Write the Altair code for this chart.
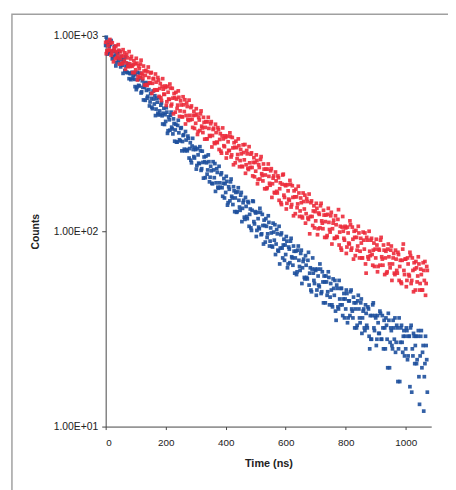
import altair as alt
import pandas as pd

# time channels (ns): two interleaved sets of channels
time_a = list(range(0, 1073, 4))
time_b = list(range(2, 1071, 4))

red_counts_a = [
    927, 838, 890, 847, 916, 813, 838, 872, 764, 829, 797, 845, 765, 789, 727, 788, 819, 728, 772, 698, 720, 763, 699, 712, 649,
    671, 725, 621, 680, 718, 644, 604, 661, 628, 564, 656, 612, 574, 650, 572, 606, 530, 580, 528, 594, 538, 483, 551, 534, 502,
    544, 460, 515, 473, 541, 447, 480, 507, 407, 475, 442, 485, 413, 443, 385, 444, 471, 391, 435, 369, 392, 430, 374, 392, 336,
    357, 397, 324, 371, 399, 345, 320, 361, 340, 297, 363, 336, 306, 364, 309, 337, 281, 320, 284, 331, 295, 257, 308, 297, 271,
    302, 251, 287, 259, 305, 246, 267, 284, 224, 268, 247, 274, 230, 249, 214, 253, 278, 219, 249, 207, 224, 248, 212, 225, 190,
    203, 230, 184, 212, 233, 197, 181, 208, 194, 165, 208, 191, 172, 209, 175, 192, 157, 181, 157, 188, 165, 140, 174, 196, 149,
    171, 139, 161, 144, 174, 137, 149, 161, 123, 150, 138, 157, 127, 140, 117, 142, 153, 123, 142, 115, 97, 140, 119, 127, 104,
    113, 131, 103, 122, 135, 113, 103, 121, 112, 93, 122, 111, 99, 125, 103, 114, 92, 108, 93, 129, 99, 82, 105, 100, 90,
    104, 83, 98, 86, 108, 82, 91, 100, 75, 93, 84, 98, 79, 87, 73, 90, 98, 61, 90, 72, 79, 90, 76, 80, 66,
    73, 85, 66, 80, 90, 74, 67, 80, 73, 61, 81, 74, 65, 84, 68, 77, 60, 72, 61, 76, 66, 55, 71, 86, 60,
    72, 56, 68, 59, 75, 56, 63, 69, 50, 65, 59, 68, 54, 60, 50, 63, 70, 54, 63,
]

red_counts_b = [
    811, 935, 847, 959, 796, 923, 737, 847, 888, 772, 902, 717, 828, 719, 850, 750, 675, 803, 697, 831, 698, 785, 649, 747, 719,
    768, 595, 702, 614, 751, 631, 701, 560, 666, 558, 693, 576, 646, 508, 602, 525, 638, 529, 612, 490, 570, 467, 604, 503, 554,
    441, 552, 475, 567, 438, 539, 399, 483, 514, 425, 523, 387, 465, 386, 488, 410, 354, 453, 374, 469, 372, 438, 340, 411, 392,
    424, 313, 382, 328, 413, 338, 383, 296, 364, 297, 383, 309, 355, 270, 332, 284, 353, 286, 339, 262, 316, 251, 338, 274, 308,
    237, 307, 259, 319, 240, 302, 219, 269, 289, 235, 297, 214, 262, 215, 277, 232, 198, 259, 210, 271, 212, 252, 192, 238, 225,
    246, 175, 219, 185, 241, 193, 221, 165, 208, 167, 221, 176, 204, 149, 187, 158, 201, 160, 192, 144, 177, 137, 194, 153, 173,
    130, 173, 146, 182, 133, 171, 120, 150, 164, 132, 170, 119, 148, 119, 157, 130, 110, 147, 117, 155, 119, 143, 107, 135, 126,
    139, 96, 124, 104, 139, 110, 128, 93, 121, 95, 131, 102, 120, 86, 110, 92, 120, 94, 115, 85, 106, 80, 119, 92, 106,
    77, 105, 87, 113, 80, 105, 72, 93, 101, 80, 106, 73, 92, 73, 99, 81, 68, 93, 74, 100, 75, 92, 67, 87, 81,
    91, 62, 81, 67, 93, 72, 85, 60, 79, 62, 86, 68, 80, 56, 73, 61, 80, 63, 78, 56, 71, 54, 81, 63, 72,
    52, 73, 60, 78, 54, 73, 49, 64, 70, 55, 74, 50, 64, 50, 69, 56, 47, 66,
]

blue_counts_a = [
    894, 942, 829, 884, 904, 831, 784, 835, 798, 730, 811, 767, 724, 785, 708, 738, 663, 701, 648, 704, 646, 597, 651, 627, 599,
    633, 545, 598, 554, 610, 517, 545, 567, 468, 526, 491, 531, 459, 479, 424, 475, 494, 422, 458, 394, 413, 442, 390, 402, 352,
    365, 407, 327, 372, 393, 341, 315, 356, 330, 286, 348, 319, 290, 339, 288, 312, 258, 293, 258, 299, 265, 231, 273, 262, 237,
    262, 217, 246, 222, 258, 209, 225, 240, 188, 224, 206, 227, 189, 204, 175, 206, 222, 177, 200, 166, 177, 195, 167, 176, 148,
    158, 180, 140, 164, 179, 151, 137, 161, 148, 125, 159, 144, 128, 158, 131, 144, 115, 134, 116, 140, 122, 104, 128, 142, 109,
    124, 101, 116, 103, 125, 97, 107, 114, 88, 106, 97, 111, 89, 98, 83, 99, 108, 86, 97, 79, 68, 96, 82, 85, 71,
    76, 89, 68, 81, 89, 74, 67, 79, 73, 60, 80, 71, 63, 80, 65, 72, 57, 67, 57, 78, 61, 50, 64, 61, 54,
    63, 50, 59, 52, 64, 49, 55, 59, 43, 55, 49, 58, 46, 50, 41, 51, 56, 35, 51, 40, 45, 51, 42, 45, 36,
    40, 48, 36, 44, 49, 40, 36, 43, 40, 32, 44, 40, 34, 45, 36, 40, 31, 38, 32, 40, 25, 28, 37, 43, 31,
    36, 28, 34, 30, 38, 28, 32, 35, 25, 33, 20, 35, 27, 31, 25, 32, 36, 27, 32, 25, 17, 32, 27, 29, 23,
    25, 31, 23, 29, 32, 15, 23, 29, 26, 21, 29, 18, 23, 31, 24, 12, 21, 26, 15,
]

blue_counts_b = [
    985, 807, 917, 815, 947, 763, 842, 884, 702, 824, 749, 835, 694, 756, 643, 753, 782, 653, 722, 604, 640, 706, 607, 646, 550,
    531, 651, 558, 645, 510, 589, 470, 546, 577, 480, 571, 438, 507, 431, 522, 448, 391, 480, 402, 483, 396, 454, 354, 426, 395,
    429, 317, 385, 329, 407, 334, 376, 289, 353, 286, 370, 294, 336, 258, 309, 263, 324, 262, 307, 237, 284, 224, 299, 241, 269,
    208, 265, 223, 271, 205, 257, 187, 227, 242, 196, 246, 179, 215, 176, 227, 188, 160, 209, 168, 215, 168, 199, 151, 186, 175,
    191, 136, 169, 143, 185, 148, 169, 126, 158, 126, 167, 133, 153, 112, 140, 118, 149, 119, 142, 106, 130, 101, 143, 112, 126,
    94, 125, 105, 131, 96, 122, 86, 107, 116, 93, 120, 84, 104, 84, 110, 90, 76, 102, 80, 106, 82, 98, 73, 91, 85,
    94, 65, 83, 69, 92, 73, 84, 61, 79, 62, 84, 66, 77, 54, 70, 58, 75, 58, 71, 53, 65, 49, 73, 56, 64,
    47, 64, 53, 68, 48, 62, 43, 55, 59, 47, 62, 42, 54, 42, 57, 47, 39, 53, 41, 56, 42, 51, 37, 48, 45,
    50, 34, 44, 37, 50, 39, 46, 32, 43, 33, 47, 36, 43, 30, 39, 32, 42, 33, 41, 29, 37, 28, 42, 32, 37,
    26, 37, 30, 39, 28, 37, 25, 32, 36, 28, 38, 20, 32, 26, 35, 28, 24, 33, 17, 36, 27, 33, 24, 31, 29,
    32, 22, 29, 16, 33, 25, 30, 21, 29, 22, 31, 13, 29, 20, 26, 18, 29, 22,
]

series_names = ["Blue", "Red"]
series_colors = ["#1d4f9c", "#ec2b3b"]
x_ticks = [0, 200, 400, 600, 800, 1000]
y_ticks = [10, 100, 1000]

rows = []
for name, order, parts in [
    ("Blue", 0, [(time_a, blue_counts_a), (time_b, blue_counts_b)]),
    ("Red", 1, [(time_a, red_counts_a), (time_b, red_counts_b)]),
]:
    for times, counts in parts:
        for t, c in zip(times, counts):
            rows.append({"time": t, "counts": c, "series": name, "order": order})
df = pd.DataFrame(rows)

font = "Liberation Sans"

points = alt.Chart(df).mark_square(size=14, opacity=0.9).encode(
    x=alt.X("time:Q", scale=alt.Scale(domain=[0, 1085], nice=False, zero=False),
            axis=alt.Axis(title="Time (ns)", values=x_ticks, format="d", grid=False, tickSize=3,
                          labelPadding=8, titlePadding=10, labelFontSize=10,
                          titleFontSize=11, titleFontWeight="bold")),
    y=alt.Y("counts:Q", scale=alt.Scale(type="log", domain=[10, 1000], nice=False),
            axis=alt.Axis(title="Counts", values=y_ticks, grid=False, tickSize=4,
                          labelPadding=4, labelFontSize=10.5, titleFontSize=10.5,
                          titleFontWeight="bold", titleX=-66, titleY=198,
                          labelExpr="datum.value == 1000 ? '1.00E+03' : (datum.value == 100 ? '1.00E+02' : '1.00E+01')")),
    color=alt.Color("series:N", scale=alt.Scale(domain=series_names, range=series_colors), legend=None),
    order=alt.Order("order:Q"),
)

frame = alt.Chart(pd.DataFrame({"a": [0]})).mark_rect(
    fill="transparent", stroke="#a0a0a0", strokeWidth=1.5
).encode(x=alt.value(-95), x2=alt.value(360), y=alt.value(-22), y2=alt.value(480))

chart = alt.layer(frame, points).properties(
    width=330, height=396,
    padding={"left": 99, "top": 25, "right": 17, "bottom": 61},
    autosize=alt.AutoSizeParams(type="none"),
).configure_view(strokeWidth=0).configure_axis(
    labelFont=font, titleFont=font, domainColor="#444", tickColor="#444",
    labelColor="#222", titleColor="#222",
)

chart.save("out.html", embed_options={"renderer": "svg", "actions": False})
